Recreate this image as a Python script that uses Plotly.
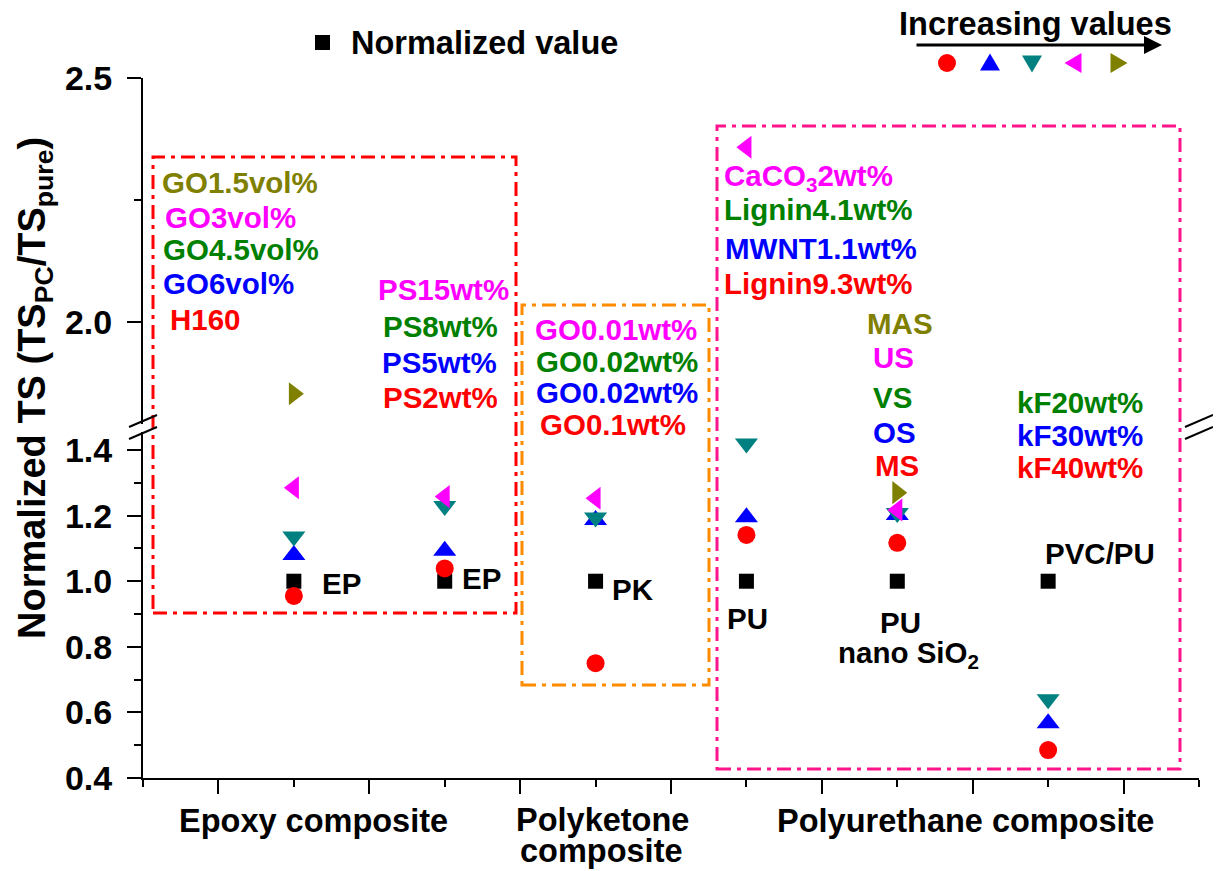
import plotly.graph_objects as go

# ---------------- data ----------------
categories = ["EP (GO)", "EP (PS)", "PK", "PU", "PU nano SiO2", "PVC/PU"]
cat_pos = [1, 2, 3, 4, 5, 6]
normalized = [1.0, 1.0, 1.0, 1.0, 1.0, 1.0]
circle_vals = [0.955, 1.039, 0.75, 1.141, 1.117, 0.485]
up_vals = [1.08, 1.093, 1.187, 1.195, 1.202, 0.567]
down_vals = [1.136, 1.229, 1.194, 1.42, 1.208, 0.64]
left_vals = [1.285, 1.258, 1.253, 2.358, 1.217, None]
right_vals = [1.852, None, None, None, 1.27, None]

lower_range = [0.4, 1.455]
upper_range = [1.79, 2.5]
x_range = [0, 7]

FONT = "Liberation Sans, Arial, sans-serif"
RED = "#FF0000"
BLUE = "#0000FF"
TEAL = "#008080"
MAGENTA = "#FF00FF"
OLIVE = "#808000"
GREEN = "#008000"
ORANGE = "#FF8C00"
PINK = "#FF148C"

# page body has an 8px margin: size the figure so the plot area lands at
# screen pixels x 143..1199, y 78..778
W, H = 1205, 863
ML, MR, MT, MB = 135, 14, 70, 93
PLOT_L, PLOT_R, PLOT_T, PLOT_B = 143, 1199, 78, 778
PW, PH = PLOT_R - PLOT_L, PLOT_B - PLOT_T


def PX(px):
    return (px - PLOT_L) / PW


def PY(py):
    return (PLOT_B - py) / PH


d_low = PY(432)
d_up = PY(424)

series = [
    (normalized, "square", "black", 15),
    (circle_vals, "circle", RED, 18),
    (up_vals, "triangle-up", BLUE, 20),
    (down_vals, "triangle-down", TEAL, 20),
    (left_vals, "triangle-left", MAGENTA, 20),
    (right_vals, "triangle-right", OLIVE, 20),
]

fig = go.Figure()
for vals, sym, col, size in series:
    for axis, lo, hi in (("y", lower_range[0], lower_range[1]), ("y2", upper_range[0], upper_range[1])):
        xs = [x for x, v in zip(cat_pos, vals) if v is not None and lo <= v <= hi]
        ys = [v for v in vals if v is not None and lo <= v <= hi]
        if xs:
            fig.add_trace(go.Scatter(
                x=xs, y=ys, mode="markers", xaxis="x", yaxis=axis,
                marker=dict(symbol=sym, color=col, size=size, line=dict(width=0)),
                showlegend=False, hoverinfo="skip"))

axis_common = dict(showline=True, linewidth=2, linecolor="black", showgrid=False,
                   zeroline=False, tickcolor="black", tickwidth=2)
tickfont = dict(family=FONT, size=34, color="black", weight="bold")

fig.update_layout(
    width=W, height=H,
    margin=dict(l=ML, r=MR, t=MT, b=MB),
    paper_bgcolor="white", plot_bgcolor="white",
    showlegend=False,
    xaxis=dict(domain=[0, 1], range=x_range, anchor="y", tickmode="linear", tick0=0.5, dtick=1,
               ticks="outside", ticklen=14, showticklabels=False,
               minor=dict(tickmode="linear", tick0=0, dtick=1, ticks="outside", ticklen=7,
                          tickwidth=2, tickcolor="black"),
               **axis_common),
    xaxis2=dict(overlaying="x", side="top", anchor="y2", range=x_range, tickmode="linear",
                tick0=0.5, dtick=1, ticks="inside", ticklen=14, showticklabels=False,
                minor=dict(tickmode="linear", tick0=0, dtick=1, ticks="inside", ticklen=7,
                           tickwidth=2, tickcolor="black"),
                **axis_common),
    yaxis=dict(domain=[0, d_low], range=lower_range, anchor="x", tickmode="linear", tick0=0.4,
               dtick=0.2, tickformat=".1f", ticks="outside", ticklen=14, tickfont=tickfont,
               ticklabelstandoff=8,
               minor=dict(tickmode="linear", tick0=0.4, dtick=0.1, ticks="outside", ticklen=7,
                          tickwidth=2, tickcolor="black"),
               **axis_common),
    yaxis2=dict(domain=[d_up, 1], range=upper_range, anchor="x", tickmode="linear", tick0=2.0,
                dtick=0.5, tickformat=".1f", ticks="outside", ticklen=14, tickfont=tickfont,
                ticklabelstandoff=8,
                minor=dict(tickmode="linear", tick0=2.0, dtick=0.25, ticks="outside", ticklen=7,
                           tickwidth=2, tickcolor="black"),
                **axis_common),
    yaxis3=dict(overlaying="y", side="right", anchor="x", range=lower_range, tickmode="linear",
                tick0=0.4, dtick=0.2, ticks="inside", ticklen=14, showticklabels=False,
                minor=dict(tickmode="linear", tick0=0.4, dtick=0.1, ticks="inside", ticklen=7,
                           tickwidth=2, tickcolor="black"),
                **axis_common),
    yaxis4=dict(overlaying="y2", side="right", anchor="x", range=upper_range, tickmode="linear",
                tick0=2.0, dtick=0.5, ticks="inside", ticklen=14, showticklabels=False,
                minor=dict(tickmode="linear", tick0=2.0, dtick=0.25, ticks="inside", ticklen=7,
                           tickwidth=2, tickcolor="black"),
                **axis_common),
)

# -------- text labels --------
labels = [
    ("GO1.5vol%", OLIVE, 160, 182, "left"),
    ("GO3vol%", MAGENTA, 163, 217, "left"),
    ("GO4.5vol%", GREEN, 161, 249, "left"),
    ("GO6vol%", BLUE, 161, 283, "left"),
    ("H160", RED, 168, 319, "left"),
    ("PS15wt%", MAGENTA, 443, 289, "center"),
    ("PS8wt%", GREEN, 440, 326, "center"),
    ("PS5wt%", BLUE, 439, 362, "center"),
    ("PS2wt%", RED, 440, 397, "center"),
    ("EP", "black", 320, 583, "left"),
    ("EP", "black", 460, 578, "left"),
    ("GO0.01wt%", MAGENTA, 616, 329, "center"),
    ("GO0.02wt%", GREEN, 617, 361, "center"),
    ("GO0.02wt%", BLUE, 617, 393, "center"),
    ("GO0.1wt%", RED, 613, 425, "center"),
    ("PK", "black", 610, 589, "left"),
    ("CaCO<sub>3</sub>2wt%", MAGENTA, 722, 177, "left"),
    ("Lignin4.1wt%", GREEN, 722, 209, "left"),
    ("MWNT1.1wt%", BLUE, 723, 248, "left"),
    ("Lignin9.3wt%", RED, 722, 283, "left"),
    ("PU", "black", 747, 618, "center"),
    ("MAS", OLIVE, 900, 323, "center"),
    ("US", MAGENTA, 893, 357, "center"),
    ("VS", GREEN, 892, 397, "center"),
    ("OS", BLUE, 894, 432, "center"),
    ("MS", RED, 897, 465, "center"),
    ("PU", "black", 900, 622, "center"),
    ("nano SiO<sub>2</sub>", "black", 908, 654, "center"),
    ("kF20wt%", GREEN, 1080, 402, "center"),
    ("kF30wt%", BLUE, 1080, 435, "center"),
    ("kF40wt%", RED, 1080, 467, "center"),
    ("PVC/PU", "black", 1100, 553, "center"),
]
for text, col, px, py, anchor in labels:
    fig.add_annotation(text=text, x=PX(px), y=PY(py), xref="paper", yref="paper",
                       xanchor=anchor, yanchor="middle", showarrow=False,
                       font=dict(family=FONT, size=29.5, color=col, weight="bold"))

# category labels
for text, px, py in [("Epoxy composite", 313, 821), ("Polyketone", 602, 820),
                     ("composite", 601, 851), ("Polyurethane composite", 965, 821)]:
    fig.add_annotation(text=text, x=PX(px), y=PY(py), xref="paper", yref="paper",
                       xanchor="center", yanchor="middle", showarrow=False,
                       font=dict(family=FONT, size=32.5, color="black", weight="bold"))

# y title
fig.add_annotation(text="Normalized TS (TS<sub>PC</sub>/TS<sub>pure</sub>)", textangle=-90,
                   x=PX(35), y=PY(388), xref="paper", yref="paper", xanchor="center",
                   yanchor="middle", showarrow=False,
                   font=dict(family=FONT, size=38, color="black", weight="bold"))

# legend-like header
fig.add_annotation(text="Normalized value", x=PX(349), y=PY(43), xref="paper", yref="paper",
                   xanchor="left", yanchor="middle", showarrow=False,
                   font=dict(family=FONT, size=32.5, color="black", weight="bold"))
fig.add_shape(type="rect", xref="paper", yref="paper", x0=PX(315), x1=PX(330), y0=PY(50),
              y1=PY(35), fillcolor="black", line=dict(width=0))
fig.add_annotation(text="Increasing values", x=PX(1035), y=PY(24), xref="paper", yref="paper",
                   xanchor="center", yanchor="middle", showarrow=False,
                   font=dict(family=FONT, size=32.5, color="black", weight="bold"))
fig.add_annotation(text="", x=PX(1162), y=PY(45), xref="paper", yref="paper", showarrow=True,
                   ax=-247, ay=0, arrowhead=2, arrowsize=1.2, arrowwidth=3, arrowcolor="black")


def tri(cx, cy, direction, w=20, h=17):
    if direction == "up":
        pts = [(cx - w / 2, cy + h / 2), (cx + w / 2, cy + h / 2), (cx, cy - h / 2)]
    elif direction == "down":
        pts = [(cx - w / 2, cy - h / 2), (cx + w / 2, cy - h / 2), (cx, cy + h / 2)]
    elif direction == "left":
        pts = [(cx + h / 2, cy - w / 2), (cx + h / 2, cy + w / 2), (cx - h / 2, cy)]
    else:
        pts = [(cx - h / 2, cy - w / 2), (cx - h / 2, cy + w / 2), (cx + h / 2, cy)]
    return "M " + " L ".join(f"{PX(a):.5f},{PY(b):.5f}" for a, b in pts) + " Z"


fig.add_shape(type="circle", xref="paper", yref="paper", x0=PX(938), x1=PX(956), y0=PY(72),
              y1=PY(54), fillcolor=RED, line=dict(width=0))
for cx, cy, d, col in [(990, 62, "up", BLUE), (1032, 64, "down", TEAL),
                       (1073, 63, "left", MAGENTA), (1119, 63, "right", OLIVE)]:
    fig.add_shape(type="path", xref="paper", yref="paper", path=tri(cx, cy, d),
                  fillcolor=col, line=dict(width=0))

# dash-dot group boxes
for (x0, y0, x1, y1), col in [((153, 157, 516, 613), RED), ((522, 305, 709, 685), ORANGE),
                              ((717, 126, 1180, 769), PINK)]:
    fig.add_shape(type="rect", xref="paper", yref="paper", x0=PX(x0), x1=PX(x1), y0=PY(y1),
                  y1=PY(y0), line=dict(color=col, width=3, dash="14px,6px,4px,6px"),
                  fillcolor="rgba(0,0,0,0)")

# axis break marks
for ax_px in (PLOT_L, PLOT_R):
    for cy in (421, 433):
        fig.add_shape(type="line", xref="paper", yref="paper", x0=PX(ax_px - 14), y0=PY(cy + 6),
                      x1=PX(ax_px + 14), y1=PY(cy - 6), line=dict(color="black", width=2))

fig.write_html("out.html")
